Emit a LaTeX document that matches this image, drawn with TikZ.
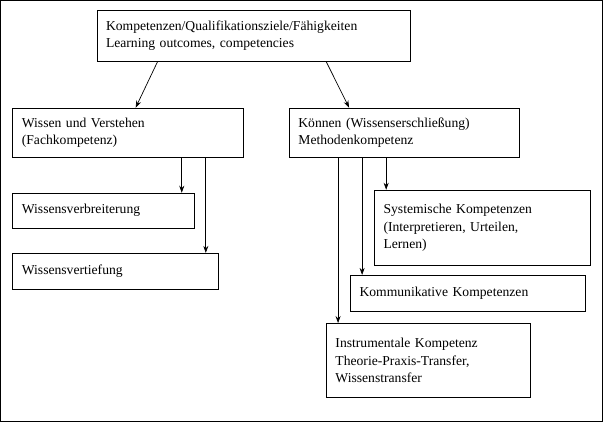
\documentclass[tikz,border=0pt]{standalone}
\usepackage{fontspec}
\setmainfont{Liberation Serif}
\usetikzlibrary{arrows.meta}
\begin{document}
\begin{tikzpicture}[x=1pt,y=-1pt,
  bx/.style={draw,anchor=north west,align=left,inner xsep=9pt,inner ysep=2pt,font=\fontsize{13.6}{17.5}\selectfont,line width=0.8pt},
  ar/.style={-{Stealth[length=7pt,width=5pt]},line width=0.7pt}]
\draw[line width=0.8pt] (1,1) rectangle (602,421);
\node[bx,text width=295pt,minimum height=50pt] (top) at (97,11) {Kompetenzen/Qualifikationsziele/Fähigkeiten\\Learning outcomes, competencies};
\node[bx,text width=212pt,minimum height=49pt] (wv) at (13,108) {Wissen und Verstehen\\(Fachkompetenz)};
\node[bx,text width=212pt,minimum height=49pt] (kn) at (289,108) {Können (Wissenserschließung)\\Methodenkompetenz};
\node[bx,text width=163pt,minimum height=35pt] (wb) at (13,193) {Wissensverbreiterung};
\node[bx,text width=187pt,minimum height=36pt] (wt) at (13,253) {Wissensvertiefung};
\node[bx,text width=197pt,minimum height=75pt] (sy) at (374,190) {Systemische Kompetenzen\\(Interpretieren, Urteilen,\\Lernen)};
\node[bx,text width=216pt,minimum height=36pt] (ko) at (350,275) {Kommunikative Kompetenzen};
\node[bx,text width=186pt,minimum height=74pt] (in) at (326,323) {Instrumentale Kompetenz\\Theorie-Praxis-Transfer,\\Wissenstransfer};
\draw[ar] (158,0 |- top.south) -- (136,0 |- wv.north);
\draw[ar] (326,0 |- top.south) -- (349,0 |- kn.north);
\draw[ar] (182,0 |- wv.south) -- (182,0 |- wb.north);
\draw[ar] (206,0 |- wv.south) -- (206,0 |- wt.north);
\draw[ar] (386,0 |- kn.south) -- (386,0 |- sy.north);
\draw[ar] (362,0 |- kn.south) -- (362,0 |- ko.north);
\draw[ar] (338,0 |- kn.south) -- (338,0 |- in.north);
\end{tikzpicture}
\end{document}
